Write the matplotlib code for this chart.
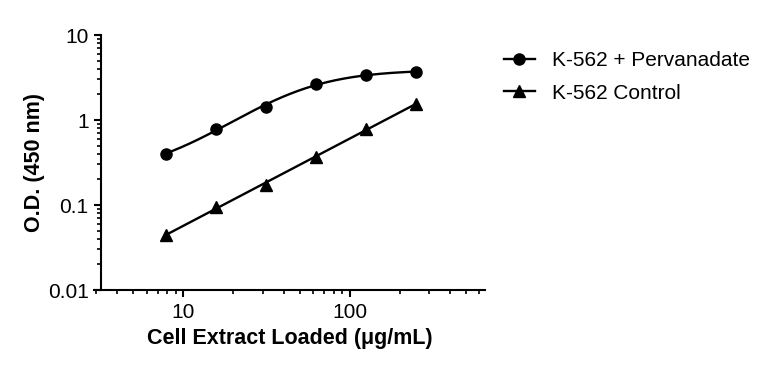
import numpy as np
import matplotlib
matplotlib.use("Agg")
import matplotlib.pyplot as plt
from matplotlib.ticker import LogLocator, FixedLocator, FixedFormatter, NullFormatter

plt.rcParams['font.family'] = ['Liberation Sans', 'DejaVu Sans']

# data
conc = [7.8125, 15.625, 31.25, 62.5, 125, 250]
perv = [0.40, 0.78, 1.43, 2.67, 3.39, 3.65]
ctrl = [0.044, 0.095, 0.172, 0.371, 0.777, 1.55]
perv_label = "K-562 + Pervanadate"
ctrl_label = "K-562 Control"
xticks = [10, 100]
xtick_labels = ["10", "100"]
yticks = [0.01, 0.1, 1, 10]
ytick_labels = ["0.01", "0.1", "1", "10"]


def fit_4pl(x, y):
    # crude 4-parameter logistic fit: grid over c, b; a, d by least squares
    x = np.asarray(x, float)
    y = np.asarray(y, float)
    best = None
    for lc in np.linspace(0.5, 3.5, 121):
        for b in np.linspace(0.3, 3.0, 55):
            g = 1.0 / (1.0 + (x / 10**lc)**b)
            A = np.column_stack([g, 1 - g])
            coef, *_ = np.linalg.lstsq(A, y, rcond=None)
            res = np.sum((np.log10(np.clip(A @ coef, 1e-6, None)) - np.log10(y))**2)
            if best is None or res < best[0]:
                best = (res, coef[0], coef[1], 10**lc, b)
    _, a, d, c, b = best
    return lambda t: d + (a - d) / (1.0 + (t / c)**b)


fig = plt.figure(figsize=(7.68, 3.67), dpi=100)
ax = fig.add_axes([0.1224, 0.2098, 0.509, 0.6948])
ax.set_xscale('log')
ax.set_yscale('log')

xs = np.logspace(np.log10(conc[0]), np.log10(conc[-1]), 200)

# fitted curves
f = fit_4pl(conc, perv)
ax.plot(xs, f(xs), color='black', lw=1.7)
cc = np.polyfit(np.log10(conc), np.log10(ctrl), 1)
ax.plot(xs, 10**np.polyval(cc, np.log10(xs)), color='black', lw=1.7)

ax.plot(conc, perv, 'o', color='black', ms=8)
ax.plot(conc, ctrl, '^', color='black', ms=8)

# legend proxies
ax.plot([], [], '-o', color='black', lw=1.7, ms=8, label=perv_label)
ax.plot([], [], '-^', color='black', lw=1.7, ms=8, label=ctrl_label)
ax.legend(loc='upper left', bbox_to_anchor=(1.0, 1.01), frameon=False,
          fontsize=15, handlelength=1.5, handletextpad=0.8, labelspacing=0.65)

ax.set_xlim(2.9, 650)
ax.set_ylim(0.01, 10)
ax.spines['left'].set_position(('data', 3.2))

ax.xaxis.set_major_locator(FixedLocator(xticks))
ax.xaxis.set_major_formatter(FixedFormatter(xtick_labels))
ax.xaxis.set_minor_locator(LogLocator(base=10, subs=np.arange(2, 10)))
ax.xaxis.set_minor_formatter(NullFormatter())
ax.yaxis.set_major_locator(FixedLocator(yticks))
ax.yaxis.set_major_formatter(FixedFormatter(ytick_labels))
ax.yaxis.set_minor_locator(LogLocator(base=10, subs=np.arange(2, 10)))
ax.yaxis.set_minor_formatter(NullFormatter())

for side in ['top', 'right']:
    ax.spines[side].set_visible(False)
for side in ['left', 'bottom']:
    ax.spines[side].set_linewidth(1.5)
ax.tick_params(which='major', length=5, width=1.5, labelsize=15, pad=4)
ax.tick_params(which='minor', length=3, width=1.2)

ax.set_xlabel("Cell Extract Loaded (\u03bcg/mL)", fontsize=15.5, fontweight='bold', labelpad=5)
ax.set_ylabel("O.D. (450 nm)", fontsize=15.5, fontweight='bold', labelpad=2)

fig.savefig("out.png", dpi=100)
